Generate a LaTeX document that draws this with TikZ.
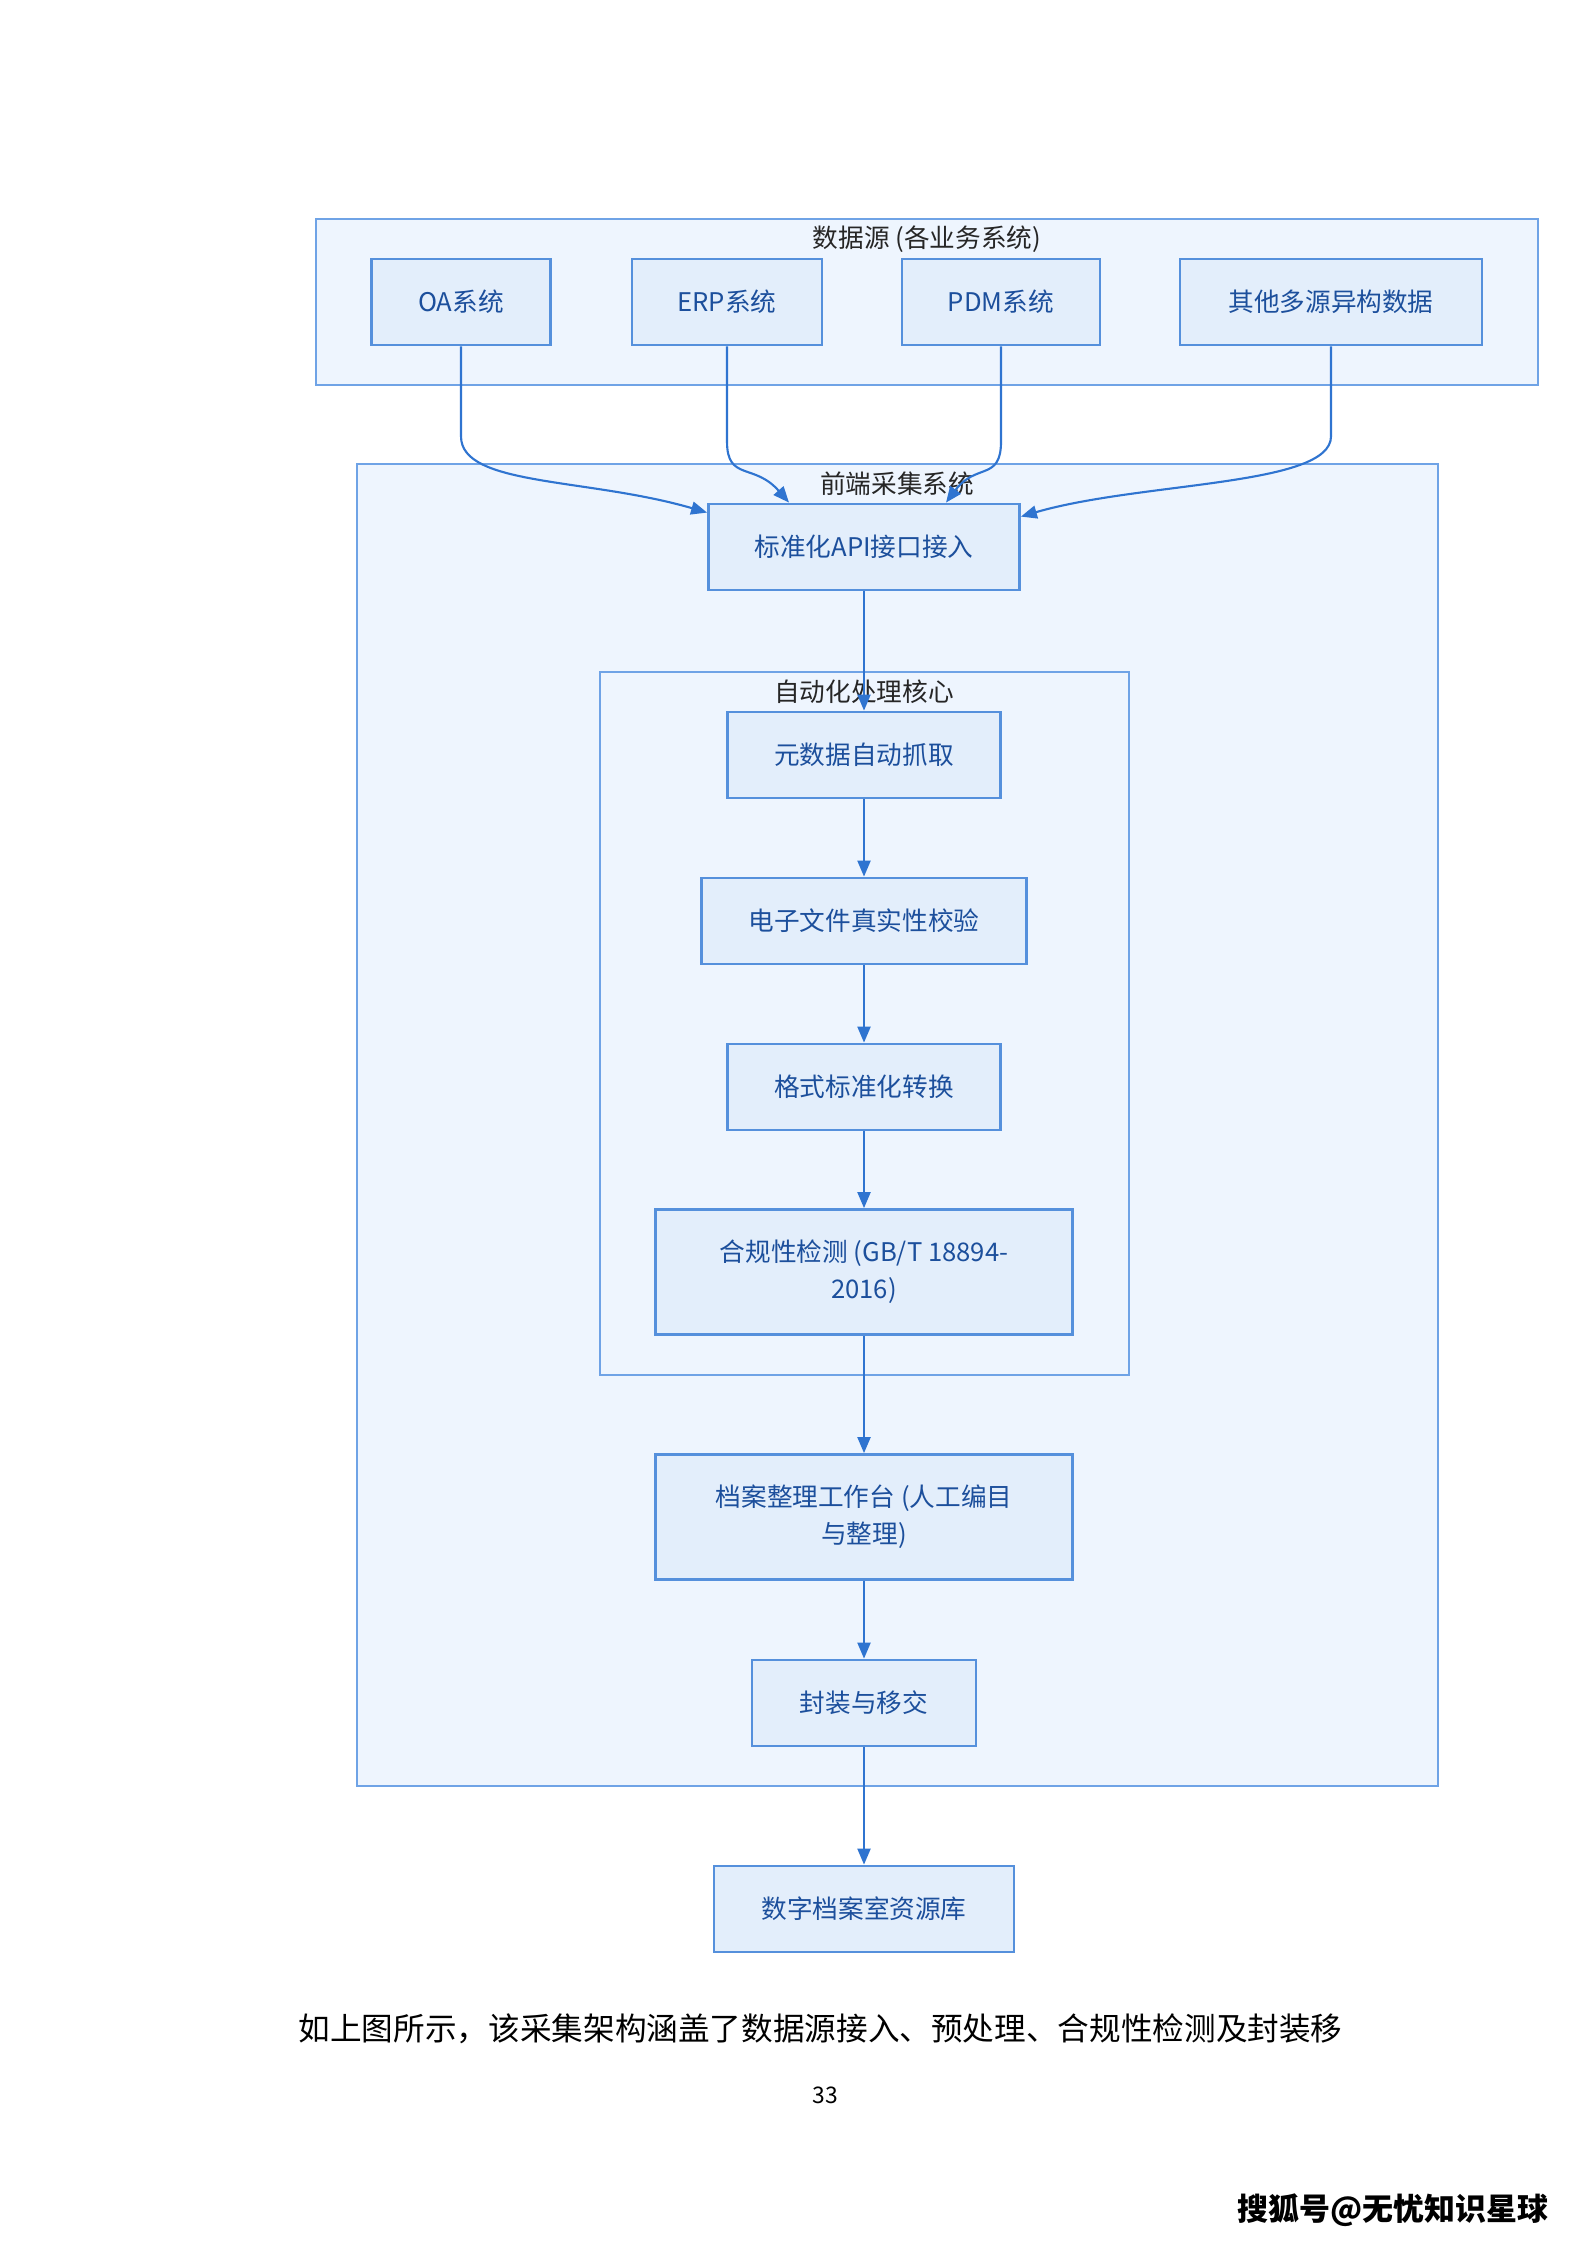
\documentclass[tikz,border=0pt]{standalone}
\usepackage{fontspec}
\setmainfont{Noto Sans CJK SC}
\usepackage{xcolor}
\usetikzlibrary{arrows.meta, calc}

\definecolor{grpfill}{HTML}{EEF5FE}
\definecolor{grpline}{HTML}{6FA3E6}
\definecolor{boxfill}{HTML}{E3EEFB}
\definecolor{boxline}{HTML}{5590DC}
\definecolor{boxtext}{HTML}{1C4F9C}
\definecolor{flowline}{HTML}{2F74D0}

\begin{document}
\begin{tikzpicture}[x=0.1mm, y=-0.1mm,
		txt/.style={font=\fontsize{7.3}{10.5}\selectfont},
		grp/.style={fill=grpfill, draw=grpline, line width=0.75pt},
		grptitle/.style={txt, text=black!85, anchor=north, inner sep=1pt},
		box/.style={txt, draw=boxline, fill=boxfill, text=boxtext, line width=0.8pt,
			align=center, minimum height=8.6mm, inner sep=2pt},
		flow/.style={draw=flowline, line width=0.6pt, -{Triangle[length=1.6mm, width=1.3mm]}}]
	\useasboundingbox (0,0) rectangle (1587,2245);
	\fill[white] (0,0) rectangle (1587,2245);

	% groups
	\draw[grp] (316,219) rectangle (1538,385);
	\node[grptitle] (srctitle) at (927,222) {数据源 (各业务系统)};
	\draw[grp] (357,464) rectangle (1438,1786);
	\node[grptitle] (fronttitle) at (897,468) {前端采集系统};
	\draw[grp] (600,672) rectangle (1129,1375);
	\node[grptitle] (coretitle) at (864,676) {自动化处理核心};

	% source systems
	\node[box, minimum width=17.9mm] (oa) at (461,302) {OA系统};
	\node[box, minimum width=19.0mm] (erp) at (727,302) {ERP系统};
	\node[box, minimum width=19.8mm] (pdm) at (1001,302) {PDM系统};
	\node[box, minimum width=30.2mm] (other) at (1331,302) {其他多源异构数据};

	% processing chain
	\node[box, minimum width=31.1mm] (api) at (864,547) {标准化API接口接入};
	\node[box, minimum width=27.3mm] (meta) at (864,755) {元数据自动抓取};
	\node[box, minimum width=32.5mm] (auth) at (864,921) {电子文件真实性校验};
	\node[box, minimum width=27.3mm] (fmt) at (864,1087) {格式标准化转换};
	\node[box, minimum width=41.7mm, minimum height=12.5mm] (comp) at (864,1272)
		{合规性检测 (GB/T 18894-\\2016)};
	\node[box, minimum width=41.7mm, minimum height=12.5mm] (arch) at (864,1517)
		{档案整理工作台 (人工编目\\与整理)};
	\node[box, minimum width=22.4mm] (pack) at (864,1703) {封装与移交};
	\node[box, minimum width=30.0mm] (repo) at (864,1909) {数字档案室资源库};

	% connectors
	\draw[flow] (oa.south) -- ++(0,90) .. controls +(0,50) and +(-120,-35) .. ($(api.north west)+(0,10)$);
	\draw[flow] (erp.south) -- ++(0,95) .. controls +(0,40) and +(-35,-40) .. ($(api.north)+(-75,0)$);
	\draw[flow] (pdm.south) -- ++(0,95) .. controls +(0,40) and +(30,-40) .. ($(api.north)+(82,0)$);
	\draw[flow] (other.south) -- ++(0,90) .. controls +(0,50) and +(120,-35) .. ($(api.north east)+(0,14)$);
	\draw[flow] (api) -- (meta);
	\draw[flow] (meta) -- (auth);
	\draw[flow] (auth) -- (fmt);
	\draw[flow] (fmt) -- (comp);
	\draw[flow] (comp) -- (arch);
	\draw[flow] (arch) -- (pack);
	\draw[flow] (pack) -- (repo);

	% page text
	\node[anchor=base west, inner sep=0pt, font=\fontsize{9.0}{11}\selectfont] (caption) at (298,2040)
		{如上图所示，该采集架构涵盖了数据源接入、预处理、合规性检测及封装移};
	\node[inner sep=0pt, font=\fontsize{6.5}{8}\selectfont] (pageno) at (825,2095) {33};
	\node[inner sep=0pt, font=\fontsize{8.8}{10}\selectfont\bfseries] (sohu) at (1393,2210) {搜狐号@无忧知识星球};
\end{tikzpicture}
\end{document}
